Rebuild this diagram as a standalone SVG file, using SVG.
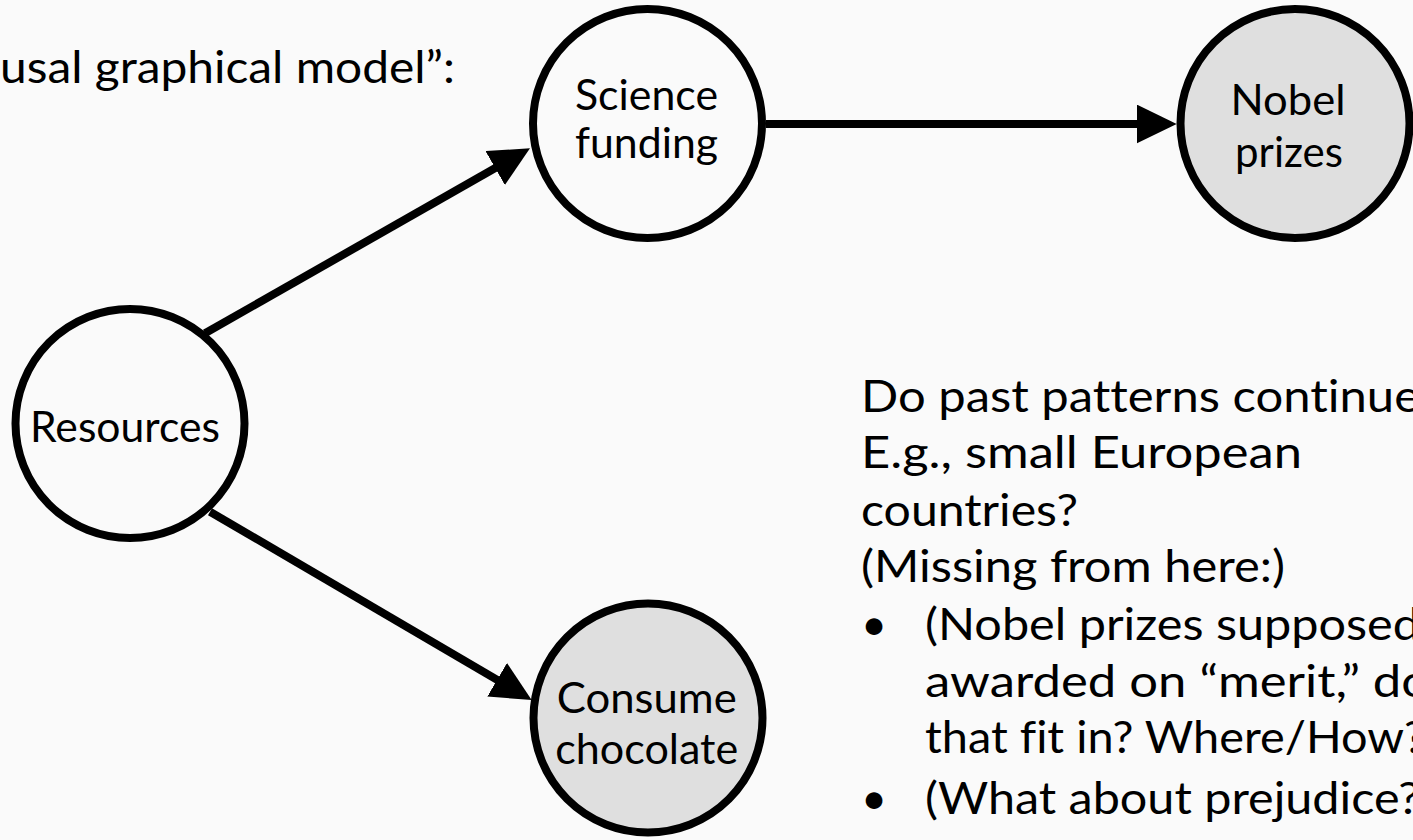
<svg xmlns="http://www.w3.org/2000/svg" width="1413" height="840" viewBox="0 0 1413 840">
  <defs>
    <style>
      .bg { fill: #fafafa; }
      .node { stroke: #000; stroke-width: 8; }
      .open { fill: #fafafa; }
      .obs { fill: #dfdfdf; }
      text { font-variant-ligatures: none; }
      .lbl { font-family: Lato, "Liberation Sans", sans-serif; font-size: 42px; fill: #000; text-anchor: middle; }
      .body { font-family: Lato, "Liberation Sans", sans-serif; font-size: 45px; fill: #000; }
      .bullet { font-family: Lato, "Liberation Sans", sans-serif; font-size: 45px; fill: #000; text-anchor: middle; }
      .edge { stroke: #000; stroke-width: 8; fill: none; marker-end: url(#arrow); }
    </style>
    <marker id="arrow" markerUnits="userSpaceOnUse" markerWidth="40" markerHeight="39" refX="20" refY="19.5" orient="auto" viewBox="0 0 40 39">
      <path d="M0,0 L40,19.5 L0,39 Z" fill="#000"/>
    </marker>
  </defs>
  <rect class="bg" x="0" y="0" width="1413" height="840"/>

  <text class="body" x="0" y="83" textLength="455" lengthAdjust="spacingAndGlyphs">usal graphical model”:</text>

  <g id="connectors">
    <line class="edge" x1="205" y1="333.3" x2="512.6" y2="158.2"/>
    <line class="edge" x1="766" y1="124" x2="1156.7" y2="124"/>
    <line class="edge" x1="210" y1="511.7" x2="514.4" y2="689.9"/>
  </g>

  <g id="node-science-funding">
    <circle class="node open" cx="647.5" cy="123.5" r="114.5"/>
    <text class="lbl" x="646.5" y="110" textLength="143" lengthAdjust="spacingAndGlyphs">Science</text>
    <text class="lbl" x="646.5" y="158.3" textLength="143" lengthAdjust="spacingAndGlyphs">funding</text>
  </g>

  <g id="node-nobel-prizes">
    <circle class="node obs" cx="1295" cy="123.5" r="114.5"/>
    <text class="lbl" x="1288" y="115" textLength="115" lengthAdjust="spacingAndGlyphs">Nobel</text>
    <text class="lbl" x="1289" y="166.7" textLength="108" lengthAdjust="spacingAndGlyphs">prizes</text>
  </g>

  <g id="node-resources">
    <circle class="node open" cx="130" cy="423.5" r="114.5"/>
    <text class="lbl" x="125" y="441.7" textLength="190" lengthAdjust="spacingAndGlyphs">Resources</text>
  </g>

  <g id="node-consume-chocolate">
    <circle class="node obs" cx="648" cy="718" r="114.5"/>
    <text class="lbl" x="646.7" y="713.3" textLength="180" lengthAdjust="spacingAndGlyphs">Consume</text>
    <text class="lbl" x="646.7" y="764" textLength="183" lengthAdjust="spacingAndGlyphs">chocolate</text>
  </g>

  <g id="notes">
    <text class="body" x="861" y="411.7" textLength="559" lengthAdjust="spacingAndGlyphs">Do past patterns continue</text>
    <text class="body" x="861" y="467.5" textLength="441" lengthAdjust="spacingAndGlyphs">E.g., small European</text>
    <text class="body" x="861" y="525.5" textLength="217" lengthAdjust="spacingAndGlyphs">countries?</text>
    <text class="body" x="861" y="581.7" textLength="424" lengthAdjust="spacingAndGlyphs">(Missing from here:)</text>
    <text class="bullet" x="874" y="640">•</text>
    <text class="body" x="925" y="640" textLength="495" lengthAdjust="spacingAndGlyphs">(Nobel prizes supposed</text>
    <text class="body" x="925" y="696.7" textLength="505" lengthAdjust="spacingAndGlyphs">awarded on “merit,” do</text>
    <text class="body" x="925" y="753.3" textLength="500" lengthAdjust="spacingAndGlyphs">that fit in? Where/How?</text>
    <text class="bullet" x="874" y="814">•</text>
    <text class="body" x="925" y="814" textLength="495" lengthAdjust="spacingAndGlyphs">(What about prejudice?</text>
  </g>
</svg>
